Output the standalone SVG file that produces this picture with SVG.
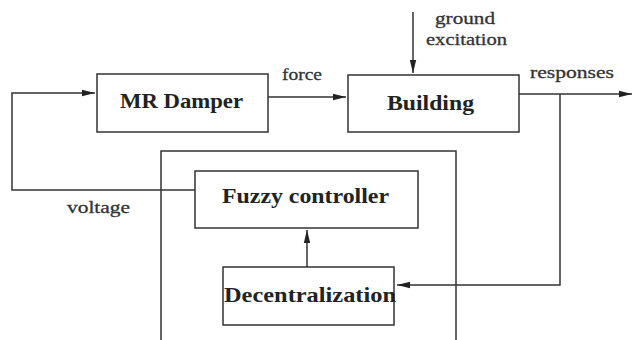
<svg xmlns="http://www.w3.org/2000/svg" width="633" height="340" viewBox="0 0 633 340">
<defs>
<marker id="arr" markerWidth="14" markerHeight="8" refX="13" refY="4" orient="auto" markerUnits="userSpaceOnUse">
<path d="M0,0.8 L13,4 L0,7.2 Z" fill="#222"/>
</marker>
<style>
.box{fill:#fff;stroke:#333;stroke-width:1.5}
.ln{fill:none;stroke:#333;stroke-width:1.5}
.bt{font-family:"Liberation Serif","DejaVu Serif",serif;font-weight:bold;font-size:21px;fill:#222}
.lb{font-family:"Liberation Serif","DejaVu Serif",serif;font-size:17px;fill:#333;stroke:#333;stroke-width:0.3}
</style>
</defs>
<rect width="633" height="340" fill="#fff"/>
<g id="controller-frame"><path class="ln" d="M161,340 V151 H456 V340"/></g>
<g id="connectors">
<path class="ln" d="M195,190 H12 V93 H95" marker-end="url(#arr)"/>
<path class="ln" d="M268,97 H346" marker-end="url(#arr)"/>
<path class="ln" d="M413,12 V73" marker-end="url(#arr)"/>
<path class="ln" d="M519,94 H632" marker-end="url(#arr)"/>
<path class="ln" d="M560,94 V285 H397" marker-end="url(#arr)"/>
<path class="ln" d="M307,267 V230" marker-end="url(#arr)"/>
</g>
<g id="mr-damper"><rect class="box" x="97" y="74" width="171" height="58"/><text class="bt" x="120" y="108" textLength="123" lengthAdjust="spacingAndGlyphs">MR Damper</text></g>
<g id="building"><rect class="box" x="348" y="75" width="171" height="57"/><text class="bt" x="387" y="110" textLength="87" lengthAdjust="spacingAndGlyphs">Building</text></g>
<g id="fuzzy-controller"><rect class="box" x="195" y="171" width="223" height="57"/><text class="bt" x="222" y="203" textLength="167" lengthAdjust="spacingAndGlyphs">Fuzzy controller</text></g>
<g id="decentralization"><rect class="box" x="223" y="267" width="171" height="58"/><text class="bt" x="224" y="302" textLength="172" lengthAdjust="spacingAndGlyphs">Decentralization</text></g>
<g id="labels">
<text class="lb" x="282" y="80" textLength="40" lengthAdjust="spacingAndGlyphs">force</text>
<text class="lb" x="435" y="24" textLength="60" lengthAdjust="spacingAndGlyphs">ground</text>
<text class="lb" x="426" y="45" textLength="81" lengthAdjust="spacingAndGlyphs">excitation</text>
<text class="lb" x="530" y="78" textLength="84" lengthAdjust="spacingAndGlyphs">responses</text>
<text class="lb" x="67" y="213" textLength="63" lengthAdjust="spacingAndGlyphs">voltage</text>
</g>
</svg>
